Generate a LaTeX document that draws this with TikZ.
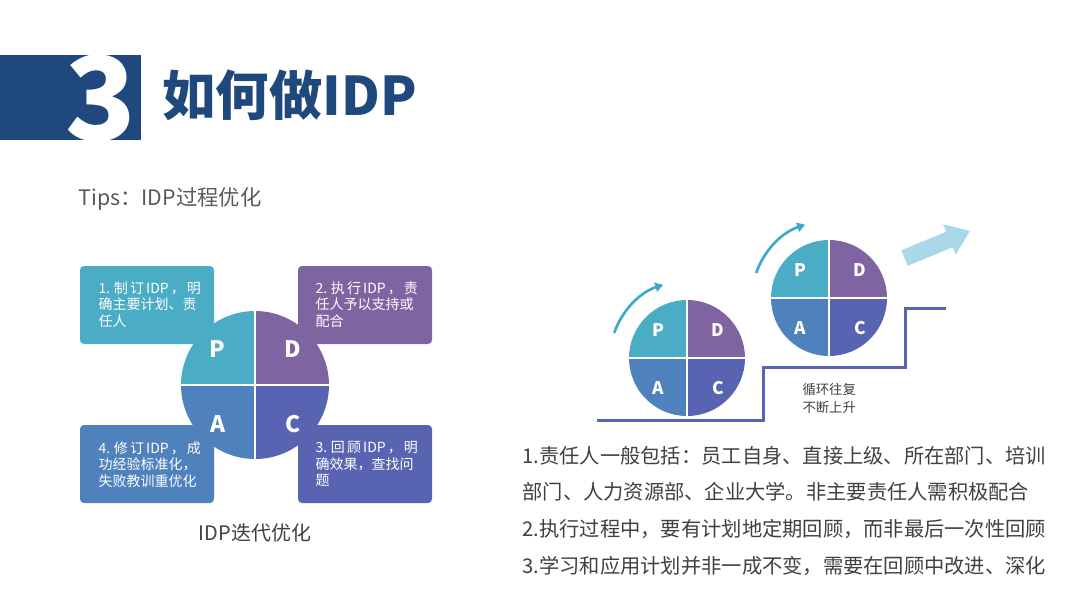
\documentclass[tikz,border=0pt]{standalone}
\usepackage{fontspec}
\setmainfont{Noto Sans CJK SC}
\usetikzlibrary{arrows.meta}

\definecolor{hdrBlue}{HTML}{1F497D}
\definecolor{colP}{HTML}{4BACC6}
\definecolor{colD}{HTML}{8064A2}
\definecolor{colA}{HTML}{4F81BD}
\definecolor{colC}{HTML}{5864B1}
\definecolor{arcTeal}{HTML}{3FA9C9}
\definecolor{upArrow}{HTML}{A9D9E7}
\definecolor{textGray}{HTML}{404040}
\definecolor{tipsGray}{HTML}{595959}

\tikzset{every picture/.style={line width=0.75pt}}
\tikzset{
  boxtext/.style={font=\fontsize{10.5pt}{12.4pt}\selectfont, text=white, align=left, anchor=north west, inner sep=0pt},
  bigletter/.style={font=\fontsize{17pt}{17pt}\selectfont\bfseries, text=white, inner sep=0pt},
  smallletter/.style={font=\fontsize{13pt}{13pt}\selectfont\bfseries, text=white, inner sep=0pt},
  gap/.style={draw=white, line width=2pt},
  cyclearc/.style={draw=arcTeal, line width=2pt, -{Triangle[length=6pt,width=7pt]}},
}

\begin{document}
\begin{tikzpicture}[x=0.75pt,y=0.75pt,yscale=-1,xscale=1]
	\useasboundingbox (0,0) rectangle (1080,607);

	%Shape: Rectangle (header)
	\fill [hdrBlue] (0,54.5) rectangle (141,139.5);
	% Text Node
	\node [text=white, font=\fontsize{87pt}{87pt}\selectfont\bfseries, inner sep=0pt, anchor=base] (bigThree) at (101,140) {3};
	% Text Node
	\node [text=hdrBlue, font=\fontsize{40pt}{40pt}\selectfont\bfseries, inner sep=0pt, anchor=base west] (title) at (162,115) {如何做IDP};
	% Text Node
	\node [text=tipsGray, font=\fontsize{16pt}{16pt}\selectfont, inner sep=0pt, anchor=base west] (tips) at (78,205) {Tips：IDP过程优化};

	%Shape: Rounded boxes
	\fill [colP, rounded corners=3pt] (80,266) rectangle (214,344);
	\fill [colD, rounded corners=3pt] (298,266) rectangle (432,344);
	\fill [colA, rounded corners=3pt] (80,425) rectangle (214,503);
	\fill [colC, rounded corners=3pt] (298,425) rectangle (432,503);

	%Shape: Circle quadrants
	\coordinate (cyc) at (255,385);
	\fill [colP] (cyc) -- (181,385) arc[start angle=180, end angle=270, radius=74] -- cycle;
	\fill [colD] (cyc) -- (255,311) arc[start angle=270, end angle=360, radius=74] -- cycle;
	\fill [colC] (cyc) -- (329,385) arc[start angle=0, end angle=90, radius=74] -- cycle;
	\fill [colA] (cyc) -- (255,459) arc[start angle=90, end angle=180, radius=74] -- cycle;
	\draw [gap] (180,385) -- (330,385);
	\draw [gap] (255,310) -- (255,460);

	% Text Node
	\node [boxtext] (planText) at (98,281) {\makebox[73.5pt][s]{1. 制 订 IDP ， 明}\\确主要计划、责\\任人};
	% Text Node
	\node [boxtext] (doText) at (315,281) {\makebox[73.5pt][s]{2. 执 行 IDP ， 责}\\任人予以支持或\\配合};
	% Text Node
	\node [boxtext] (actText) at (98,441) {\makebox[73.5pt][s]{4. 修 订 IDP ， 成}\\功经验标准化，\\失败教训重优化};
	% Text Node
	\node [boxtext] (checkText) at (315,441) {\makebox[73.5pt][s]{3. 回 顾 IDP ， 明}\\确效果，查找问\\题};

	% Text Node
	\node [bigletter] (planL) at (217,349) {P};
	\node [bigletter] (doL) at (293,349) {D};
	\node [bigletter] (actL) at (218,424) {A};
	\node [bigletter] (checkL) at (293,424) {C};

	% Text Node
	\node [text=textGray, font=\fontsize{15pt}{15pt}\selectfont, inner sep=0pt, anchor=base] (caption) at (255,540) {IDP迭代优化};

	%Shape: Staircase
	\draw [colC, line width=2.25pt] (597,420) -- (763,420) -- (763,367) -- (905,367) -- (905,308) -- (946,308);

	%Shape: Lower cycle
	\coordinate (cycOne) at (687,358);
	\fill [colP] (cycOne) -- (629,358) arc[start angle=180, end angle=270, radius=58] -- cycle;
	\fill [colD] (cycOne) -- (687,300) arc[start angle=270, end angle=360, radius=58] -- cycle;
	\fill [colC] (cycOne) -- (745,358) arc[start angle=0, end angle=90, radius=58] -- cycle;
	\fill [colA] (cycOne) -- (687,416) arc[start angle=90, end angle=180, radius=58] -- cycle;
	\draw [gap, line width=1.5pt] (628,358) -- (746,358);
	\draw [gap, line width=1.5pt] (687,299) -- (687,417);
	\draw [cyclearc] ([shift={(-161:77)}]cycOne) arc[start angle=-161, end angle=-108, radius=77];
	\node [smallletter] (pOne) at (658,330) {P};
	\node [smallletter] (dOne) at (718,330) {D};
	\node [smallletter] (aOne) at (658,388) {A};
	\node [smallletter] (cOne) at (718,388) {C};

	%Shape: Upper cycle
	\coordinate (cycTwo) at (829,298);
	\fill [colP] (cycTwo) -- (771,298) arc[start angle=180, end angle=270, radius=58] -- cycle;
	\fill [colD] (cycTwo) -- (829,240) arc[start angle=270, end angle=360, radius=58] -- cycle;
	\fill [colC] (cycTwo) -- (887,298) arc[start angle=0, end angle=90, radius=58] -- cycle;
	\fill [colA] (cycTwo) -- (829,356) arc[start angle=90, end angle=180, radius=58] -- cycle;
	\draw [gap, line width=1.5pt] (770,298) -- (888,298);
	\draw [gap, line width=1.5pt] (829,239) -- (829,357);
	\draw [cyclearc] ([shift={(-161:77)}]cycTwo) arc[start angle=-161, end angle=-108, radius=77];
	\node [smallletter] (pTwo) at (800,270) {P};
	\node [smallletter] (dTwo) at (860,270) {D};
	\node [smallletter] (aTwo) at (800,328) {A};
	\node [smallletter] (cTwo) at (860,328) {C};

	%Shape: Block arrow
	\begin{scope}[shift={(904.5,258)}, rotate=-22.4]
	\fill [upArrow] (0,-8.4) -- (48.6,-8.4) -- (48.6,-16.5) -- (70.8,0) -- (48.6,16.5) -- (48.6,8.4) -- (0,8.4) -- cycle;
	\end{scope}

	% Text Node
	\node [text=textGray, font=\fontsize{10pt}{13.5pt}\selectfont, align=left, inner sep=0pt, anchor=north west] (loopNote) at (802,383) {循环往复\\不断上升};

	% Text Node
	\node [text=textGray, font=\fontsize{15.2pt}{27.5pt}\selectfont, align=left, inner sep=0pt, anchor=north west] (notes) at (522,445.5) {1.责任人一般包括：员工自身、直接上级、所在部门、培训\\部门、人力资源部、企业大学。非主要责任人需积极配合\\2.执行过程中，要有计划地定期回顾，而非最后一次性回顾\\3.学习和应用计划并非一成不变，需要在回顾中改进、深化};

\end{tikzpicture}
\end{document}
